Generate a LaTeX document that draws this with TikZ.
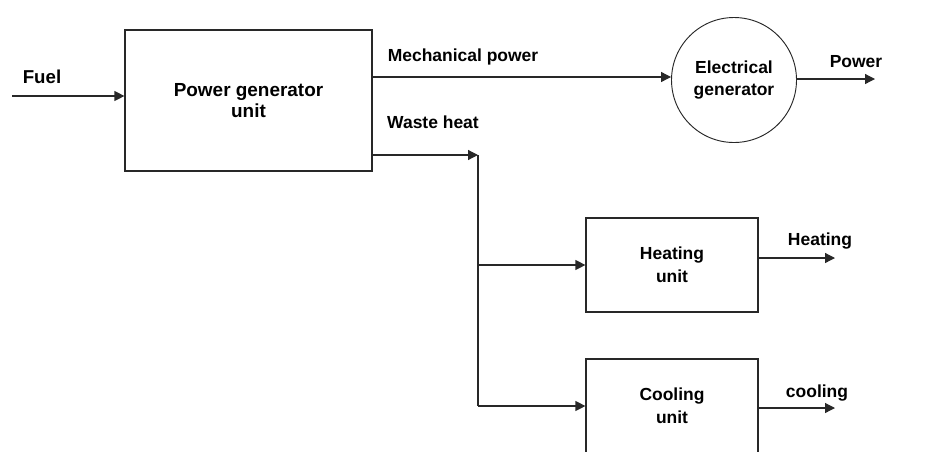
\documentclass[tikz,border=0pt]{standalone}
\usepackage{fontspec}
\setmainfont{Liberation Sans}
\usetikzlibrary{arrows.meta}
\definecolor{ln}{RGB}{40,40,40}
\tikzset{
  box/.style={draw=ln, line width=0.9pt, inner sep=0pt, align=center, font=\fontsize{13.1}{17}\selectfont\bfseries},
  lbl/.style={inner sep=0pt, anchor=base, font=\fontsize{13.1}{16.5}\selectfont\bfseries},
  arr/.style={draw=ln, line width=0.9pt, -{Triangle[length=7.5pt,width=7.5pt]}},
  wire/.style={draw=ln, line width=0.9pt},
}
\begin{document}
\begin{tikzpicture}[x=0.75pt,y=-0.75pt]
\useasboundingbox (0,0) rectangle (930,451);
\clip (0,0) rectangle (930,451);
% nodes
\node[box, minimum width=185.25pt, minimum height=105.75pt, font=\fontsize{14.2}{16}\selectfont\bfseries] (pgu) at (248.5,100.5) {Power generator\\unit};
\node[box, circle, line width=0.7pt, minimum size=93.75pt] (gen) at (734,80) {Electrical\\generator};
\node[box, minimum width=129pt, minimum height=70.5pt] (heat) at (672,265) {Heating\\unit};
\node[box, minimum width=129pt, minimum height=70.5pt] (cool) at (672,406) {Cooling\\unit};
% labels
\node[lbl, font=\fontsize{14}{16}\selectfont\bfseries] (fuel) at (42,83) {Fuel};
\node[lbl] (mech) at (463,61) {Mechanical power};
\node[lbl] (waste) at (433,128) {Waste heat};
\node[lbl] (pow) at (856,67) {Power};
\node[lbl] (heatl) at (820,245) {Heating};
\node[lbl] (cooll) at (817,397) {cooling};
% coordinates
\coordinate (fuelS) at (12,96);
\coordinate (mp) at (0,77);
\coordinate (pw) at (875,79);
\coordinate (j) at (478,155);
\coordinate (ho) at (835,258);
\coordinate (co) at (835,408);
% connectors
\draw[arr] (fuelS) -- (fuelS -| pgu.west);
\draw[arr] (pgu.east |- mp) -- (gen.west |- mp);
\draw[arr] (gen.east |- pw) -- (pw);
\draw[arr] (pgu.east |- j) -- (j);
\draw[wire] (j) -- (j |- cool.west);
\draw[arr] (j |- heat.west) -- (heat.west);
\draw[arr] (j |- cool.west) -- (cool.west);
\draw[arr] (heat.east |- ho) -- (ho);
\draw[arr] (cool.east |- co) -- (co);
\end{tikzpicture}
\end{document}
